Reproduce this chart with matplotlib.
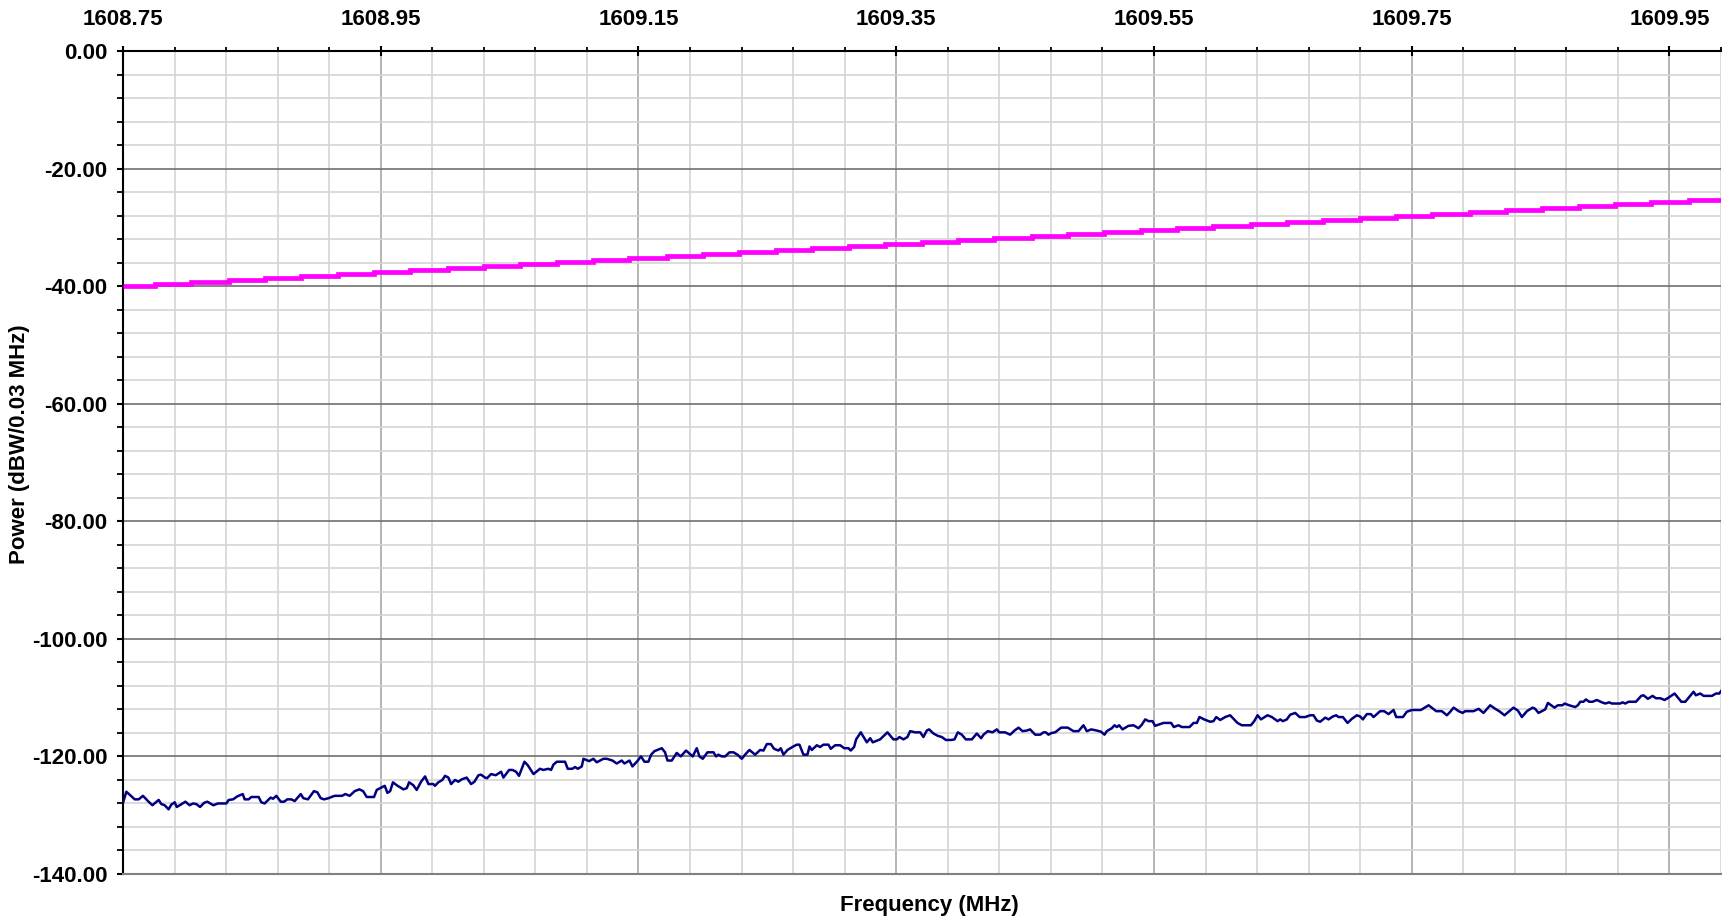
import matplotlib
matplotlib.use("Agg")
import matplotlib.pyplot as plt
from matplotlib.ticker import FixedLocator, AutoMinorLocator, MultipleLocator

plt.rcParams['font.family'] = ['Liberation Sans', 'DejaVu Sans']
plt.rcParams['font.weight'] = 'bold'

# magenta staircase: step edges (MHz) and levels (dBW)
mask_edges = [1608.750, 1608.775, 1608.803, 1608.832, 1608.860, 1608.888, 1608.917,
              1608.945, 1608.973, 1609.002, 1609.030, 1609.058, 1609.087, 1609.115,
              1609.143, 1609.172, 1609.200, 1609.228, 1609.257, 1609.285, 1609.313,
              1609.341, 1609.370, 1609.398, 1609.426, 1609.455, 1609.483, 1609.511,
              1609.540, 1609.568, 1609.596, 1609.625, 1609.653, 1609.681, 1609.710,
              1609.738, 1609.766, 1609.795, 1609.823, 1609.851, 1609.880, 1609.908,
              1609.936, 1609.965, 1609.990]
mask_levels = [-40.00, -39.66, -39.32, -38.98, -38.64, -38.31, -37.97, -37.63, -37.29,
               -36.95, -36.61, -36.27, -35.93, -35.59, -35.25, -34.92, -34.58, -34.24,
               -33.90, -33.56, -33.22, -32.88, -32.54, -32.20, -31.86, -31.53, -31.19,
               -30.85, -30.51, -30.17, -29.83, -29.49, -29.15, -28.81, -28.47, -28.14,
               -27.80, -27.46, -27.12, -26.78, -26.44, -26.10, -25.76, -25.42]

# navy measured trace
trace_freq = [
    1608.7500, 1608.7526, 1608.7591, 1608.7622, 1608.7655, 1608.7694, 1608.7728, 1608.7777,
    1608.7797, 1608.7823, 1608.7854, 1608.7875, 1608.7901, 1608.7917, 1608.7948, 1608.7984,
    1608.8017, 1608.8043, 1608.8069, 1608.8098, 1608.8129, 1608.8154, 1608.8201, 1608.8237,
    1608.8302, 1608.8320, 1608.8354, 1608.8387, 1608.8429, 1608.8444, 1608.8475, 1608.8496,
    1608.8553, 1608.8573, 1608.8599, 1608.8646, 1608.8664, 1608.8690, 1608.8724, 1608.8750,
    1608.8775, 1608.8806, 1608.8832, 1608.8879, 1608.8899, 1608.8935, 1608.8982, 1608.9008,
    1608.9034, 1608.9060, 1608.9096, 1608.9117, 1608.9143, 1608.9200, 1608.9225, 1608.9259,
    1608.9298, 1608.9334, 1608.9363, 1608.9391, 1608.9448, 1608.9469, 1608.9531, 1608.9552,
    1608.9573,
    1608.9595, 1608.9624, 1608.9676, 1608.9702, 1608.9720, 1608.9753, 1608.9779, 1608.9813,
    1608.9844, 1608.9870, 1608.9908, 1608.9921, 1608.9947, 1608.9978, 1608.9999, 1609.0025,
    1609.0046, 1609.0077, 1609.0102, 1609.0128, 1609.0167, 1609.0201, 1609.0227, 1609.0258,
    1609.0278, 1609.0309, 1609.0325, 1609.0356, 1609.0392, 1609.0434, 1609.0452, 1609.0496,
    1609.0522, 1609.0550, 1609.0573, 1609.0615, 1609.0641, 1609.0685, 1609.0736, 1609.0762,
    1609.0801, 1609.0822, 1609.0840, 1609.0866, 1609.0930, 1609.0951, 1609.0987, 1609.1008,
    1609.1029, 1609.1060, 1609.1073, 1609.1117, 1609.1150, 1609.1176, 1609.1228, 1609.1254,
    1609.1298, 1609.1331, 1609.1370, 1609.1391, 1609.1430, 1609.1453, 1609.1487, 1609.1520,
    1609.1546, 1609.1577, 1609.1598, 1609.1624,
    1609.1647, 1609.1681, 1609.1706, 1609.1725, 1609.1758, 1609.1797, 1609.1828, 1609.1869,
    1609.1921, 1609.1952, 1609.1973, 1609.1999, 1609.2035, 1609.2082, 1609.2102, 1609.2120,
    1609.2146, 1609.2172, 1609.2206, 1609.2237, 1609.2268, 1609.2302, 1609.2327, 1609.2361,
    1609.2405, 1609.2444, 1609.2470, 1609.2496, 1609.2527, 1609.2552, 1609.2586, 1609.2604,
    1609.2625, 1609.2656, 1609.2702, 1609.2728, 1609.2749, 1609.2780, 1609.2811, 1609.2827,
    1609.2845, 1609.2884, 1609.2909, 1609.2935, 1609.2974, 1609.2992, 1609.3026, 1609.3065,
    1609.3096, 1609.3129, 1609.3147, 1609.3173, 1609.3189, 1609.3225, 1609.3272, 1609.3298,
    1609.3318, 1609.3375, 1609.3432, 1609.3478, 1609.3504, 1609.3525, 1609.3556, 1609.3587,
    1609.3608, 1609.3647, 1609.3686,
    1609.3711, 1609.3737, 1609.3755, 1609.3789, 1609.3823, 1609.3854, 1609.3885, 1609.3926,
    1609.3952, 1609.3978, 1609.4009, 1609.4040, 1609.4087, 1609.4125, 1609.4159, 1609.4177,
    1609.4211, 1609.4247, 1609.4281, 1609.4299, 1609.4345, 1609.4384, 1609.4418, 1609.4449,
    1609.4480, 1609.4513, 1609.4539, 1609.4578, 1609.4617, 1609.4643, 1609.4661, 1609.4681,
    1609.4707, 1609.4733, 1609.4780, 1609.4831, 1609.4875, 1609.4914, 1609.4953, 1609.4979,
    1609.5013, 1609.5057, 1609.5090, 1609.5116, 1609.5134, 1609.5173, 1609.5194, 1609.5212,
    1609.5230, 1609.5256, 1609.5302, 1609.5341, 1609.5380, 1609.5406, 1609.5432, 1609.5458,
    1609.5489, 1609.5509, 1609.5535, 1609.5574, 1609.5633, 1609.5654, 1609.5690, 1609.5716,
    1609.5742,
    1609.5776, 1609.5807, 1609.5833, 1609.5853, 1609.5889, 1609.5936, 1609.5962, 1609.5983,
    1609.6014, 1609.6053, 1609.6091, 1609.6117, 1609.6148, 1609.6182, 1609.6252, 1609.6278,
    1609.6304, 1609.6330, 1609.6381, 1609.6415, 1609.6459, 1609.6480, 1609.6500, 1609.6531,
    1609.6557, 1609.6596, 1609.6630, 1609.6674, 1609.6712, 1609.6738, 1609.6764, 1609.6790,
    1609.6829, 1609.6855, 1609.6888, 1609.6914, 1609.6932, 1609.6966, 1609.7002, 1609.7036,
    1609.7074, 1609.7100, 1609.7121, 1609.7152, 1609.7183, 1609.7204, 1609.7255, 1609.7286,
    1609.7320, 1609.7359, 1609.7380, 1609.7432, 1609.7462, 1609.7501, 1609.7571, 1609.7631,
    1609.7690, 1609.7734, 1609.7773, 1609.7799,
    1609.7825, 1609.7864, 1609.7895, 1609.7915, 1609.7980, 1609.8019, 1609.8057, 1609.8109,
    1609.8148, 1609.8179, 1609.8220, 1609.8290, 1609.8324, 1609.8355, 1609.8394, 1609.8438,
    1609.8458, 1609.8484, 1609.8510, 1609.8536, 1609.8557, 1609.8608, 1609.8634, 1609.8670,
    1609.8686, 1609.8722, 1609.8769, 1609.8789, 1609.8808, 1609.8833, 1609.8852, 1609.8877,
    1609.8903, 1609.8937, 1609.8976, 1609.9002, 1609.9033, 1609.9053, 1609.9118, 1609.9136,
    1609.9157, 1609.9183, 1609.9240, 1609.9281, 1609.9299, 1609.9333, 1609.9369, 1609.9395,
    1609.9429, 1609.9462, 1609.9493, 1609.9540, 1609.9592, 1609.9623, 1609.9687, 1609.9705,
    1609.9739, 1609.9765, 1609.9830, 1609.9861, 1609.9886, 1609.9907]
trace_power = [
    -127.9, -126.0, -127.3, -127.3, -126.7, -127.6, -128.3, -127.4,
    -128.1, -128.3, -129.0, -128.2, -127.8, -128.6, -128.2, -127.7,
    -128.3, -128.0, -128.1, -128.6, -127.9, -127.7, -128.3, -128.0,
    -128.0, -127.4, -127.3, -126.8, -126.4, -127.3, -127.3, -126.9,
    -126.9, -127.8, -128.0, -127.0, -127.2, -126.7, -127.7, -127.7,
    -127.3, -127.3, -127.6, -126.4, -127.1, -127.3, -125.9, -126.1,
    -127.1, -127.3, -127.1, -126.9, -126.7, -126.7, -126.4, -126.7,
    -125.9, -125.6, -125.9, -126.9, -126.9, -125.7, -125.0, -126.2,
    -125.9,
    -124.4, -124.9, -125.6, -125.4, -124.4, -124.9, -125.7, -124.3,
    -123.4, -124.7, -124.7, -125.0, -124.4, -124.0, -123.3, -123.6,
    -124.7, -124.0, -124.3, -123.9, -123.6, -124.7, -124.3, -123.2,
    -123.1, -123.6, -123.7, -123.0, -123.2, -122.6, -123.6, -122.3,
    -122.3, -122.6, -123.3, -120.9, -121.5, -123.0, -122.1, -122.3,
    -122.1, -122.3, -121.4, -120.9, -120.9, -122.1, -122.1, -121.8,
    -122.1, -121.7, -120.4, -120.8, -120.4, -121.0, -120.4, -120.4,
    -120.7, -121.2, -120.7, -121.2, -120.7, -121.7, -120.9, -120.0,
    -120.9, -120.9, -119.7, -119.1,
    -118.9, -118.6, -119.3, -120.7, -120.7, -119.4, -120.0, -119.0,
    -120.0, -118.6, -120.0, -120.4, -119.3, -119.3, -120.0, -119.7,
    -120.0, -120.0, -119.3, -119.3, -119.7, -120.4, -119.7, -118.9,
    -119.7, -118.9, -119.0, -117.9, -117.9, -118.7, -119.0, -118.6,
    -119.7, -118.9, -118.3, -118.0, -118.0, -119.7, -119.7, -118.3,
    -118.9, -118.1, -118.4, -118.0, -118.0, -118.7, -118.1, -118.1,
    -118.6, -118.6, -119.0, -118.4, -117.1, -115.9, -117.6, -116.9,
    -117.6, -117.1, -115.9, -117.1, -117.1, -116.7, -117.1, -116.7,
    -115.7, -115.9, -115.9,
    -116.7, -115.6, -115.4, -116.1, -116.5, -116.7, -117.2, -117.2,
    -117.1, -115.9, -116.3, -117.1, -117.1, -116.1, -116.9, -116.3,
    -115.7, -115.9, -115.4, -115.9, -115.9, -116.3, -115.6, -115.1,
    -115.7, -115.6, -115.4, -116.3, -116.3, -115.9, -115.9, -116.3,
    -116.0, -115.9, -115.1, -115.1, -115.7, -115.7, -114.7, -115.7,
    -115.4, -115.6, -115.8, -116.3, -115.7, -115.2, -114.7, -115.0,
    -114.7, -115.4, -114.8, -114.7, -115.2, -114.6, -113.7, -114.0,
    -114.0, -114.8, -114.6, -114.3, -114.3, -115.0, -114.7, -115.0,
    -115.0,
    -115.0, -114.3, -114.3, -113.3, -113.7, -114.1, -114.0, -113.3,
    -113.8, -113.3, -113.0, -113.6, -114.3, -114.7, -114.7, -114.0,
    -113.0, -113.7, -113.0, -113.3, -114.0, -113.7, -114.0, -113.7,
    -112.9, -112.6, -113.3, -113.3, -113.0, -113.0, -113.9, -114.1,
    -113.4, -113.7, -113.2, -113.0, -113.3, -113.3, -114.3, -113.6,
    -113.0, -113.2, -113.7, -112.8, -112.8, -113.3, -112.3, -112.3,
    -112.8, -112.1, -113.3, -113.3, -112.4, -112.1, -112.1, -111.3,
    -112.3, -112.3, -113.0, -112.4,
    -111.7, -112.3, -112.6, -112.3, -112.3, -111.9, -112.6, -111.3,
    -111.9, -112.3, -113.0, -111.7, -112.2, -113.3, -112.3, -111.7,
    -111.9, -112.6, -112.3, -112.0, -110.9, -111.7, -111.3, -111.3,
    -111.0, -111.3, -111.6, -111.3, -110.7, -110.7, -110.3, -110.7,
    -110.7, -110.4, -110.8, -111.0, -110.8, -111.0, -111.0, -110.8,
    -111.0, -110.7, -110.7, -109.7, -109.6, -110.2, -109.7, -110.1,
    -110.1, -110.4, -110.0, -109.3, -110.7, -110.7, -109.0, -109.6,
    -109.3, -109.7, -109.7, -109.3, -109.3, -108.7]

x_ticks = [1608.75, 1608.95, 1609.15, 1609.35, 1609.55, 1609.75, 1609.95]
x_labels = ["1608.75", "1608.95", "1609.15", "1609.35", "1609.55", "1609.75", "1609.95"]
y_ticks = [0, -20, -40, -60, -80, -100, -120, -140]
y_labels = ["0.00", "-20.00", "-40.00", "-60.00", "-80.00", "-100.00", "-120.00", "-140.00"]

fig = plt.figure(figsize=(17.22, 9.22), dpi=100)
ax = fig.add_axes([123 / 1722, 1 - 874 / 922, 1598 / 1722, 823 / 922])

ax.plot(trace_freq, trace_power, color="#000080", lw=1.8, zorder=3)
ax.stairs(mask_levels, mask_edges, baseline=None, color="#ff00ff", lw=3.4, zorder=4)

ax.set_xlim(1608.75, 1609.99)
ax.set_ylim(-140, 0)

ax.xaxis.tick_top()
ax.xaxis.set_major_locator(FixedLocator(x_ticks))
ax.set_xticklabels(x_labels)
ax.xaxis.set_minor_locator(AutoMinorLocator(5))
ax.yaxis.set_major_locator(FixedLocator(y_ticks))
ax.set_yticklabels(y_labels)
ax.yaxis.set_minor_locator(MultipleLocator(4))

ax.tick_params(axis="x", which="major", direction="inout", length=6.5, width=1.5,
               pad=12, labelsize=16)
ax.tick_params(axis="x", which="minor", direction="out", length=3, width=1.3)
ax.tick_params(axis="y", which="major", direction="out", length=4.3, width=1.5,
               pad=7, labelsize=16)
ax.tick_params(axis="y", which="minor", direction="out", length=4.3, width=1.3)

ax.grid(which="minor", color="#d4d4d4", lw=1.2, zorder=0)
ax.grid(which="major", axis="x", color="#a8a8a8", lw=1.2, zorder=1)
ax.grid(which="major", axis="y", color="#707070", lw=1.2, zorder=1)
ax.set_axisbelow(True)

ax.spines["right"].set_visible(False)
ax.spines["bottom"].set_color("#808080")
ax.spines["bottom"].set_linewidth(1.5)
ax.spines["left"].set_linewidth(1.5)
ax.spines["top"].set_linewidth(1.5)

fig.text(929 / 1722, 1 - 905 / 922, "Frequency (MHz)", ha="center", va="center",
         fontsize=16, fontweight="bold")
fig.text(20 / 1722, 1 - 444 / 922, "Power (dBW/0.03 MHz)", ha="center", va="center",
         rotation=90, fontsize=16, fontweight="bold")

fig.savefig("out.png", dpi=100)
